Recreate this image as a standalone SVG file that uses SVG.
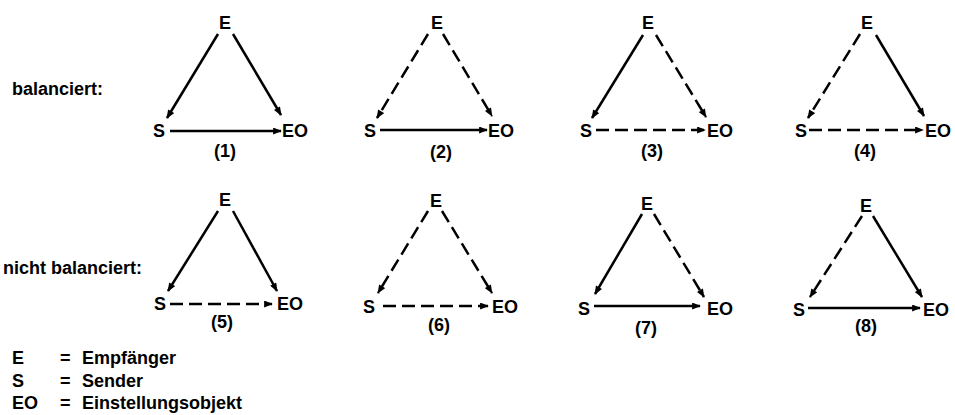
<svg xmlns="http://www.w3.org/2000/svg" width="955" height="415" viewBox="0 0 955 415">
<style>
text{font-family:"Liberation Sans",Arial,sans-serif;font-weight:bold;font-size:18px;fill:#000}
.m{text-anchor:middle}
.c line{stroke:#000;stroke-width:2.5;fill:none;marker-end:url(#ah)}
.c line.d{stroke-dasharray:13 6}
</style>
<defs>
<marker id="ah" viewBox="0 0 10 8" refX="9" refY="4" markerWidth="10" markerHeight="7" orient="auto" markerUnits="userSpaceOnUse"><path d="M0,0 L10,4 L0,8 z" fill="#000"/></marker>
</defs>
<rect width="955" height="415" fill="#fff"/>
<text x="12" y="95">balanciert:</text>
<text x="3" y="274">nicht balanciert:</text>
<g class="c" id="connectors">
<line x1="218" y1="34" x2="167" y2="118"/><line x1="233" y1="34" x2="281" y2="115"/><line x1="170" y1="131" x2="281" y2="131"/>
<line class="d" x1="428" y1="34" x2="377" y2="118"/><line class="d" x1="443" y1="34" x2="492" y2="116"/><line x1="380" y1="130" x2="487" y2="130"/>
<line x1="643" y1="35" x2="592" y2="118"/><line class="d" x1="656" y1="35" x2="706" y2="117"/><line class="d" x1="596" y1="130" x2="705" y2="130"/>
<line class="d" x1="860" y1="34" x2="808" y2="118"/><line x1="876" y1="35" x2="924" y2="116"/><line class="d" x1="809" y1="130" x2="923" y2="130"/>
<line x1="218" y1="211" x2="168" y2="291"/><line x1="233" y1="211" x2="277" y2="291"/><line class="d" x1="170" y1="304" x2="272" y2="304"/>
<line class="d" x1="428" y1="211" x2="378" y2="293"/><line class="d" x1="442" y1="211" x2="492" y2="293"/><line class="d" x1="383" y1="306" x2="488" y2="306"/>
<line x1="642" y1="214" x2="595" y2="294"/><line class="d" x1="654" y1="214" x2="704" y2="297"/><line x1="594" y1="306" x2="700" y2="306"/>
<line class="d" x1="862" y1="216" x2="810" y2="297"/><line x1="873" y1="216" x2="922" y2="297"/><line x1="808" y1="308" x2="920" y2="308"/>
</g>
<g id="d1-E"><text class="m" x="225" y="29">E</text></g>
<g id="d1-S"><text class="m" x="159" y="137">S</text></g>
<g id="d1-EO"><text x="282" y="137">EO</text></g>
<text class="m" x="225" y="157">(1)</text>
<g id="d2-E"><text class="m" x="437" y="29">E</text></g>
<g id="d2-S"><text class="m" x="370" y="137">S</text></g>
<g id="d2-EO"><text x="488" y="137">EO</text></g>
<text class="m" x="441" y="158">(2)</text>
<g id="d3-E"><text class="m" x="648" y="29">E</text></g>
<g id="d3-S"><text class="m" x="586" y="137">S</text></g>
<g id="d3-EO"><text x="707" y="137">EO</text></g>
<text class="m" x="652" y="157">(3)</text>
<g id="d4-E"><text class="m" x="867" y="29">E</text></g>
<g id="d4-S"><text class="m" x="801" y="137">S</text></g>
<g id="d4-EO"><text x="925" y="137">EO</text></g>
<text class="m" x="865" y="157">(4)</text>
<g id="d5-E"><text class="m" x="225" y="206">E</text></g>
<g id="d5-S"><text class="m" x="160" y="310">S</text></g>
<g id="d5-EO"><text x="277" y="310">EO</text></g>
<text class="m" x="222" y="328">(5)</text>
<g id="d6-E"><text class="m" x="436" y="207">E</text></g>
<g id="d6-S"><text class="m" x="369" y="313">S</text></g>
<g id="d6-EO"><text x="492" y="313">EO</text></g>
<text class="m" x="439" y="331">(6)</text>
<g id="d7-E"><text class="m" x="647" y="210">E</text></g>
<g id="d7-S"><text class="m" x="584" y="315">S</text></g>
<g id="d7-EO"><text x="707" y="315">EO</text></g>
<text class="m" x="646" y="334">(7)</text>
<g id="d8-E"><text class="m" x="866" y="212">E</text></g>
<g id="d8-S"><text class="m" x="799" y="316">S</text></g>
<g id="d8-EO"><text x="923" y="316">EO</text></g>
<text class="m" x="866" y="332">(8)</text>
<g id="legend">
<text x="12" y="364">E</text><text x="60" y="364">=</text><text x="82" y="364">Empfänger</text>
<text x="12" y="387">S</text><text x="60" y="387">=</text><text x="82" y="387">Sender</text>
<text x="12" y="409">EO</text><text x="60" y="409">=</text><text x="82" y="409">Einstellungsobjekt</text>
</g>
</svg>
